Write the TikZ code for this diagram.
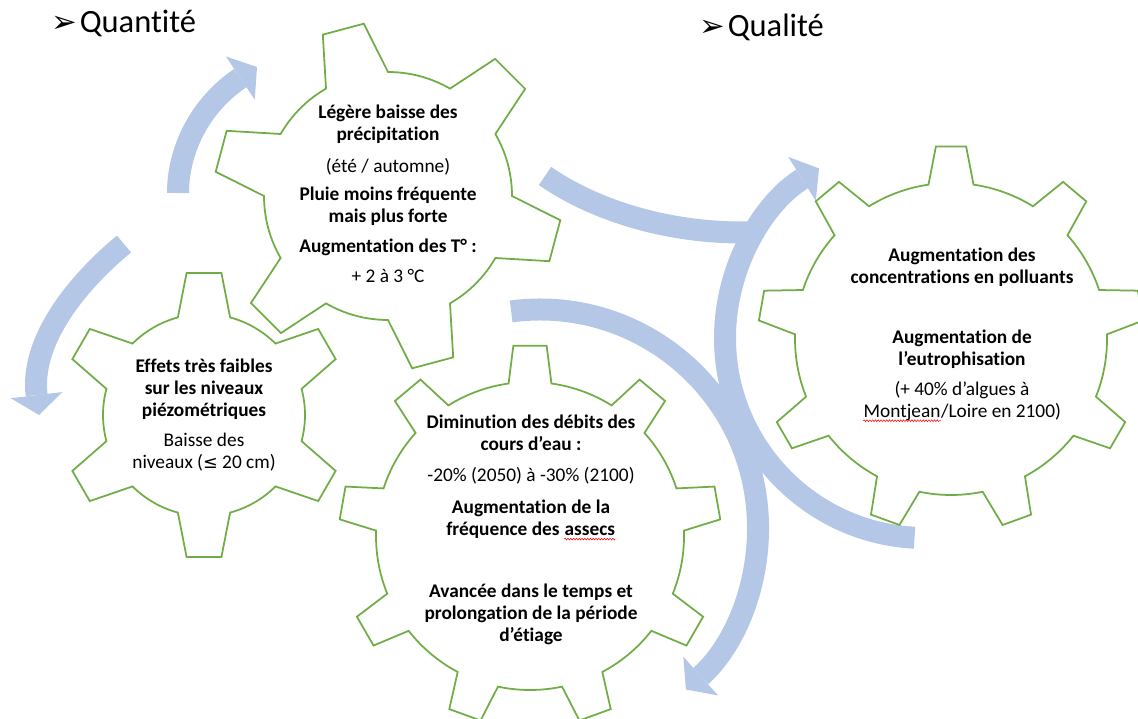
\documentclass[tikz,border=0pt]{standalone}
\usepackage{fontspec}
\setmainfont{Carlito}[Ligatures={TeX,NoCommon}]
\newfontfamily\symfont{DejaVu Sans}
\usetikzlibrary{arrows.meta,calc,decorations.pathmorphing}

\definecolor{gearGreen}{HTML}{70AD47}
\definecolor{flowBlue}{HTML}{B4C7E7}

\tikzset{
  gear/.style={draw=gearGreen, line width=1pt, line join=miter},
  flow/.style={draw=flowBlue, line width=0.44cm},
  flowhead/.style={-{Triangle[width=1.04cm, length=0.4cm, line width=0pt]}},
  gtext/.style={align=center, font=\fontsize{11}{12.5}\selectfont\bfseries},
  heading/.style={anchor=base west, inner sep=0pt, font=\fontsize{18.5}{20}\selectfont},
  wavy/.style={draw=red, line width=0.3pt, decorate,
    decoration={snake, amplitude=0.5pt, segment length=1.6pt}}
}

% red wavy line of the spell checker
\newcommand{\faute}[1]{\tikz[baseline=(w.base)]{\node[inner sep=0pt] (w) {#1};
  \draw[wavy] ([yshift=-2pt]w.base west) -- ([yshift=-2pt]w.base east);}}

% #1 centre, #2 first tooth angle, #3 second tooth angle, #4 last tooth angle,
% #5 tip radius, #6 root radius, #7 half angle at the tip, #8 half angle at the root
\newcommand{\drawgear}[8]{%
  \draw[gear, shift={(#1)}] ({#2-#8}:#6)
    \foreach \a in {#2,#3,...,#4} {
      -- ({\a-#7}:#5) -- ({\a+#7}:#5) -- ({\a+#8}:#6)
      arc[start angle={\a+#8}, end angle={\a+#3-#2-#8}, radius=#6]
    } -- cycle;
}

\begin{document}
\begin{tikzpicture}[x=0.02cm, y=0.02cm]

\useasboundingbox (0,0) rectangle (1138,-719);
\clip (0,0) rectangle (1138,-719);

% Centres of the gears
\coordinate (Gnappe) at (204,-415);
\coordinate (Gpluie) at (388,-196);
\coordinate (Gqualite) at (951,-339);
\coordinate (Gdebit) at (530,-536);

% Centres of the two big arcs
\coordinate (Cqualite) at (925,-338);
\coordinate (Cdebit) at (540,-527.5);

% Ends of the other arrows
\coordinate (aStart) at (124,-244);
\coordinate (aEnd) at (39,-415);
\coordinate (bStart) at (178,-193);
\coordinate (bEnd) at (257,-67);
\coordinate (cStart) at (545,-176);
\coordinate (cEnd) at (760,-232);

% Blue arrows
\draw[flow] (cStart) .. controls (600,-214) and (680,-236) .. (cEnd);
\draw[flow, flowhead] ($(Cqualite)+(267:200)$) arc[start angle=267, end angle=122, radius=200];
\draw[flow, flowhead] ($(Cdebit)+(97.6:218)$) arc[start angle=97.6, end angle=-48, radius=218];
\draw[flow, flowhead] (aStart) .. controls (78,-282) and (30,-340) .. (aEnd);
\draw[flow, flowhead] (bStart) .. controls (178,-150) and (200,-105) .. (bEnd);

% Gears
\drawgear{Gnappe}{90}{150}{390}{143}{101}{7}{15}
\drawgear{Gpluie}{105}{165}{405}{174}{124}{7}{15}
\drawgear{Gqualite}{90}{130}{410}{193}{156}{4.5}{8.3}
\drawgear{Gdebit}{90}{130}{410}{191}{154}{5}{8}

% Titles
\node[heading] (quantite) at (51,-33) {{\symfont\fontsize{17.5}{18}\selectfont ➢}\hspace{1.5pt}Quantité};
\node[heading] (qualite) at (699,-37) {{\symfont\fontsize{17.5}{18}\selectfont ➢}\hspace{1.5pt}Qualité};

% Texts in the gears
\node[gtext] (pluie) at (388,-194) {Légère baisse des\\ précipitation\\[5.7pt]
  {\mdseries (été / automne)}\\[3.4pt] Pluie moins fréquente\\ mais plus forte\\[4.5pt]
  Augmentation des T° :\\[4.5pt] {\mdseries + 2 à 3 °C}};
\node[gtext] (nappe) at (204,-415) {Effets très faibles\\ sur les niveaux\\ piézométriques\\[4.5pt]
  {\mdseries Baisse des}\\ {\mdseries niveaux ({\symfont\fontsize{10}{12}\selectfont ≤} 20 cm)}};
\node[gtext] (eutro) at (962,-335) {Augmentation des\\ concentrations en polluants\\[21.5pt]
  Augmentation de\\ l’eutrophisation\\[4.5pt] {\mdseries (+ 40\% d’algues à}\\
  {\mdseries \faute{Montjean}/Loire en 2100)}};
\node[gtext] (debit) at (531,-530) {Diminution des débits des\\ cours d’eau :\\[5pt]
  {\mdseries -20\% (2050) à -30\% (2100)}\\[6pt] Augmentation de la\\
  fréquence des \faute{assecs}\\[23pt] Avancée dans le temps et\\
  prolongation de la période\\ d’étiage};

\end{tikzpicture}
\end{document}
